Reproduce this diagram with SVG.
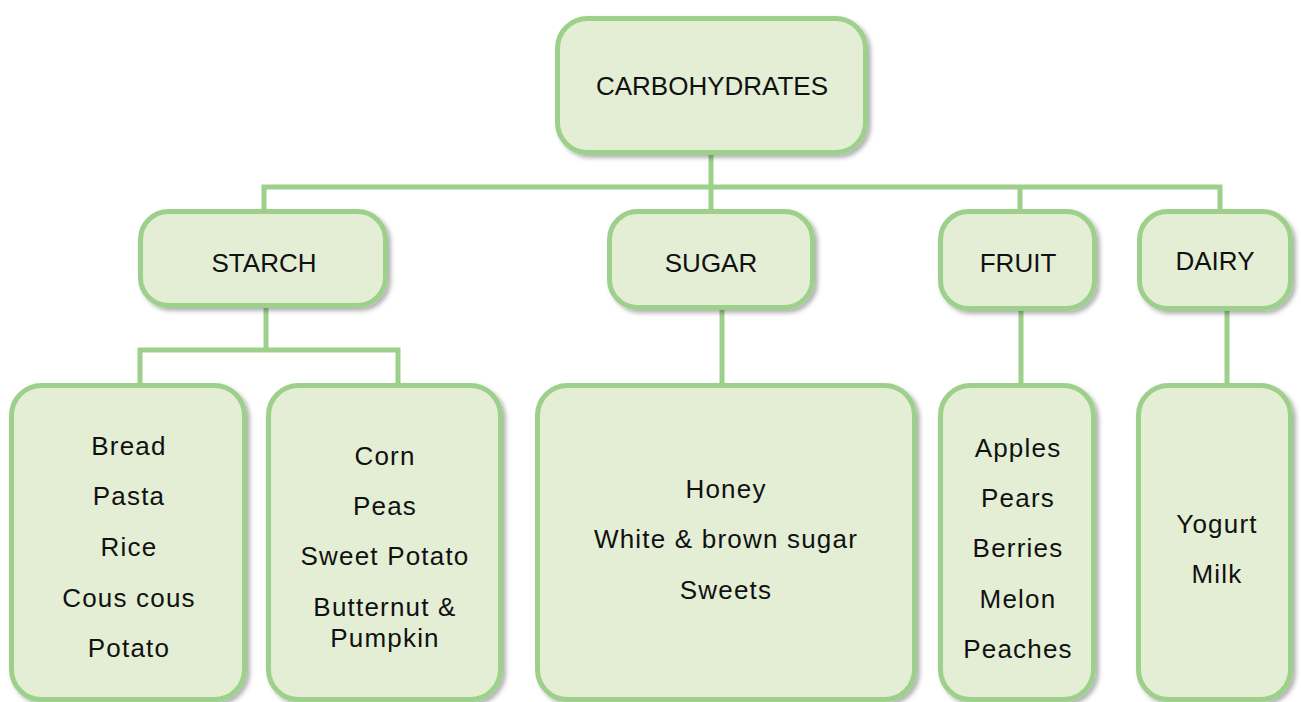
<svg xmlns="http://www.w3.org/2000/svg" width="1301" height="702" viewBox="0 0 1301 702">
  <style>
    .box { fill: #e3eed5; stroke: #9dd08a; stroke-width: 5; filter: url(#sh); }
    .conn { fill: none; stroke: #9dd08a; stroke-width: 5; stroke-linecap: butt; stroke-linejoin: miter; }
    .lbl { font-family: "Liberation Sans", Arial, sans-serif; font-size: 26px; fill: #111; text-anchor: middle; }
    .item { font-family: "Liberation Sans", Arial, sans-serif; font-size: 26px; fill: #111; text-anchor: middle; letter-spacing: 1.2px; }
  </style>
  <defs>
    <filter id="sh" x="-10%" y="-10%" width="125%" height="125%">
      <feDropShadow dx="3" dy="3" stdDeviation="2" flood-color="#000" flood-opacity="0.3"/>
    </filter>
  </defs>
  <rect width="1301" height="702" fill="#ffffff"/>

  <g id="connectors">
    <polyline class="conn" points="711,155 711,187"/>
    <polyline class="conn" points="264,211 264,187 1220,187 1220,211"/>
    <polyline class="conn" points="711,187 711,211"/>
    <polyline class="conn" points="1020,187 1020,211"/>
    <polyline class="conn" points="266,308 266,350"/>
    <polyline class="conn" points="140,385 140,350 398,350 398,385"/>
    <polyline class="conn" points="722,310 722,385"/>
    <polyline class="conn" points="1021,311 1021,385"/>
    <polyline class="conn" points="1227,311 1227,385"/>
  </g>

  <g id="carbohydrates">
    <rect class="box" x="557.5" y="18.5" width="308" height="134" rx="30"/>
    <text class="lbl" x="712" y="95">CARBOHYDRATES</text>
  </g>

  <g id="starch">
    <rect class="box" x="140.5" y="211.5" width="245" height="94" rx="28"/>
    <text class="lbl" x="264" y="272">STARCH</text>
  </g>
  <g id="sugar">
    <rect class="box" x="609.5" y="211.5" width="203" height="96" rx="28"/>
    <text class="lbl" x="711" y="272">SUGAR</text>
  </g>
  <g id="fruit">
    <rect class="box" x="940.5" y="211.5" width="154" height="97" rx="28"/>
    <text class="lbl" x="1018" y="272">FRUIT</text>
  </g>
  <g id="dairy">
    <rect class="box" x="1139.5" y="211.5" width="151" height="97" rx="28"/>
    <text class="lbl" x="1215" y="270">DAIRY</text>
  </g>

  <g id="starch-grains">
    <rect class="box" x="11.5" y="385.5" width="233" height="314" rx="30"/>
    <text class="item" x="129" y="455">Bread</text>
    <text class="item" x="129" y="505">Pasta</text>
    <text class="item" x="129" y="556">Rice</text>
    <text class="item" x="129" y="607">Cous cous</text>
    <text class="item" x="129" y="657">Potato</text>
  </g>
  <g id="starch-veg">
    <rect class="box" x="268.5" y="385.5" width="232" height="314" rx="30"/>
    <text class="item" x="385" y="465">Corn</text>
    <text class="item" x="385" y="515">Peas</text>
    <text class="item" x="385" y="565">Sweet Potato</text>
    <text class="item" x="385" y="616">Butternut &amp;</text>
    <text class="item" x="385" y="647">Pumpkin</text>
  </g>
  <g id="sugar-items">
    <rect class="box" x="537.5" y="385.5" width="377" height="314" rx="30"/>
    <text class="item" x="726" y="498">Honey</text>
    <text class="item" x="726" y="548">White &amp; brown sugar</text>
    <text class="item" x="726" y="599">Sweets</text>
  </g>
  <g id="fruit-items">
    <rect class="box" x="940.5" y="385.5" width="153" height="314" rx="30"/>
    <text class="item" x="1018" y="457">Apples</text>
    <text class="item" x="1018" y="507">Pears</text>
    <text class="item" x="1018" y="557">Berries</text>
    <text class="item" x="1018" y="608">Melon</text>
    <text class="item" x="1018" y="658">Peaches</text>
  </g>
  <g id="dairy-items">
    <rect class="box" x="1138.5" y="385.5" width="152" height="314" rx="30"/>
    <text class="item" x="1217" y="533">Yogurt</text>
    <text class="item" x="1217" y="583">Milk</text>
  </g>
</svg>
